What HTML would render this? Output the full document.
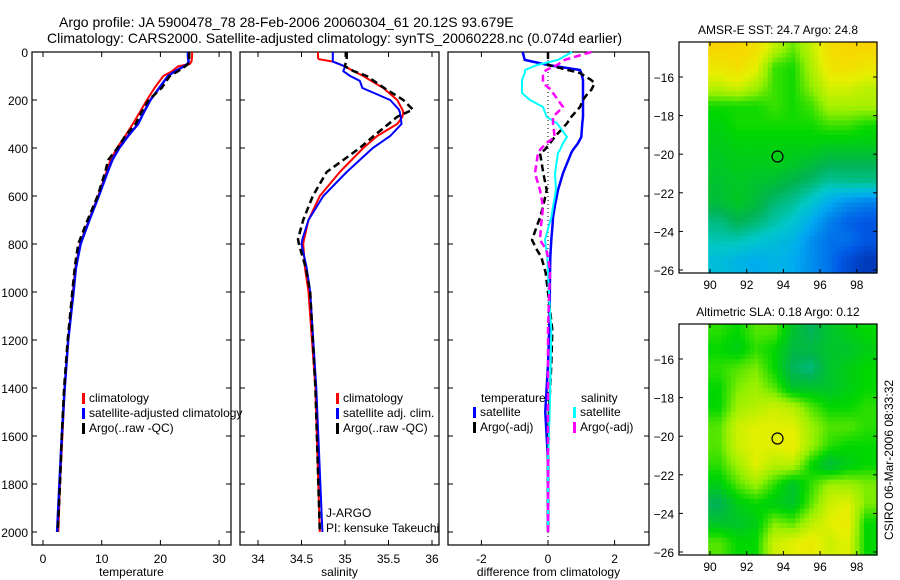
<!DOCTYPE html>
<html><head><meta charset="utf-8">
<style>
html,body{margin:0;padding:0;background:#fff;}
svg{display:block;font-family:"Liberation Sans",Arial,sans-serif;}
text{fill:#000;}
</style></head>
<body>
<svg id="chart" width="900" height="580" viewBox="0 0 900 580" xmlns="http://www.w3.org/2000/svg">
<text x="59" y="27" font-size="14">Argo profile: JA 5900478_78 28-Feb-2006 20060304_61 20.12S 93.679E</text>
<text x="47" y="43" font-size="14">Climatology: CARS2000. Satellite-adjusted climatology: synTS_20060228.nc (0.074d earlier)</text>
<g id="g"></g>
</svg>
<script>
// ---------- data ----------
const depthT = [0,20,40,50,60,80,100,150,200,250,300,350,400,450,500,600,700,800,900,1000,1200,1400,1600,1800,2000];
const tempClim = [25.4,25.4,25.3,25.0,23.0,22.0,20.5,19.0,17.7,16.5,15.3,14.0,12.6,11.5,10.8,9.4,7.8,6.3,5.5,5.1,4.3,3.7,3.3,2.9,2.6];
const tempSat  = [24.7,24.7,24.8,24.6,24.0,22.5,21.3,19.8,18.3,17.2,16.2,14.5,13.0,11.8,11.0,9.5,7.9,6.4,5.6,5.2,4.3,3.7,3.2,2.8,2.4];
const tempArgo = [24.9,24.9,24.9,24.7,24.2,23.0,21.6,20.2,18.0,16.8,15.8,14.0,12.7,11.1,10.6,9.3,7.6,6.0,5.4,5.0,4.2,3.6,3.2,2.9,2.5];
const depthS = [0,20,25,30,40,60,80,100,120,150,200,240,250,270,300,350,400,500,600,700,780,800,900,1000,1400,2000];
const salClim = [34.69,34.69,34.69,34.70,34.86,35.0,35.1,35.21,35.3,35.44,35.6,35.66,35.67,35.66,35.6,35.37,35.21,34.94,34.71,34.58,34.53,34.52,34.54,34.58,34.66,34.71];
const salSat  = [34.86,34.86,34.86,34.86,34.86,35.0,34.98,35.06,35.17,35.2,35.52,35.62,35.63,35.64,35.65,35.52,35.32,35.02,34.75,34.58,34.51,34.50,34.56,34.60,34.67,34.74];
const salArgo = [35.02,35.02,35.02,35.02,35.01,35.0,35.1,35.25,35.33,35.45,35.67,35.78,35.72,35.6,35.5,35.33,35.17,34.79,34.63,34.52,34.46,34.47,34.55,34.60,34.66,34.71];
const depthD = [0,33,54,75,88,117,130,158,171,200,229,270,297,354,380,408,420,505,575,645,690,712,783,825,854,920,1062,1158,1300,1500,1700,2000];
const diffTempSat  = [-0.76,-0.7,0.0,0.96,1.0,1.05,1.05,1.05,1.05,1.05,1.05,1.05,1.03,1.0,0.9,0.75,0.7,0.45,0.3,0.2,0.15,0.14,0.1,0.08,0.07,0.06,0.05,0.04,0.0,-0.08,0.0,0.0];
const diffTempArgo = [0.0,0.0,0.0,0.6,0.96,1.3,1.4,1.3,1.2,1.05,0.96,0.7,0.57,0.2,0.06,-0.1,-0.24,-0.14,-0.04,-0.15,-0.24,-0.3,-0.48,-0.33,-0.2,-0.07,0.05,0.13,0.1,0.03,0.0,0.0];
const diffSalSat   = [0.72,0.3,-0.33,-0.69,-0.7,-0.78,-0.78,-0.78,-0.78,-0.54,-0.15,-0.04,0.27,0.57,0.45,0.36,0.3,0.21,0.24,0.15,0.1,0.05,-0.09,-0.05,-0.02,0.0,0.05,0.1,0.08,0.05,0.0,0.0];
const diffSalArgo  = [1.3,0.5,0.27,-0.05,-0.15,-0.15,-0.15,0.1,0.15,0.3,0.45,0.15,0.15,0.2,-0.05,-0.24,-0.3,-0.39,-0.24,-0.15,-0.18,-0.2,-0.24,-0.05,0.0,0.06,0.02,0.0,0.0,0.0,0.0,0.0];
const sstGrid = [
[25.5,25.5,25.4,25.0,24.7,25.0,25.4,25.5,25.5],
[25.3,25.4,25.2,24.6,24.5,24.9,25.3,25.4,25.3],
[25.0,25.1,24.9,24.6,24.5,24.8,25.1,25.1,25.0],
[24.5,24.5,24.5,24.6,24.5,24.6,24.9,24.9,24.9],
[24.4,24.5,24.5,24.5,24.5,24.5,24.6,24.6,24.5],
[24.35,24.4,24.4,24.4,24.4,24.4,24.35,24.35,24.35],
[24.3,24.35,24.35,24.35,24.3,24.2,24.1,24.1,24.1],
[24.25,24.3,24.25,24.2,24.1,24.0,23.85,23.9,23.9],
[24.2,24.3,24.2,24.0,23.9,23.7,23.4,23.2,23.1],
[23.95,24.1,24.0,23.85,23.7,23.4,23.1,22.9,22.8],
[23.8,23.8,23.7,23.6,23.5,23.2,23.0,23.0,22.8],
[23.6,23.5,23.4,23.5,23.4,23.2,23.0,22.7,22.5]];
const slaGrid = [
[0.11,0.10,0.12,0.12,0.08,0.06,0.08,0.09,0.10],
[0.10,0.09,0.11,0.10,0.07,0.07,0.08,0.08,0.09],
[0.11,0.12,0.13,0.10,0.06,0.05,0.08,0.09,0.10],
[0.10,0.13,0.14,0.12,0.08,0.08,0.08,0.09,0.10],
[0.10,0.14,0.15,0.16,0.15,0.12,0.10,0.10,0.11],
[0.12,0.16,0.17,0.17,0.17,0.14,0.12,0.12,0.11],
[0.12,0.16,0.17,0.17,0.18,0.14,0.11,0.10,0.10],
[0.11,0.14,0.17,0.15,0.15,0.10,0.07,0.09,0.10],
[0.09,0.12,0.14,0.11,0.08,0.11,0.14,0.14,0.13],
[0.06,0.09,0.10,0.09,0.08,0.12,0.16,0.17,0.13],
[0.08,0.08,0.09,0.13,0.12,0.15,0.17,0.18,0.10],
[0.12,0.10,0.10,0.16,0.17,0.18,0.16,0.17,0.10]];
const floatLon = 93.679, floatLat = -20.12;
const depthTicks = [0,200,400,600,800,1000,1200,1400,1600,1800,2000];
const tempTicks = [0,10,20,30];
const salTicks = [34,34.5,35,35.5,36];
const diffTicks = [-2,0,2];
const lonTicks = [90,92,94,96,98];
const latTicks = [-16,-18,-20,-22,-24,-26];

// ---------- helpers ----------
const NS="http://www.w3.org/2000/svg";
const G=document.getElementById('g');
function mk(tag,attrs,parent){const e=document.createElementNS(NS,tag);for(const k in attrs)e.setAttribute(k,attrs[k]);(parent||G).appendChild(e);return e;}
function txt(x,y,s,size,anchor,parent){const t=mk('text',{x:x,y:y,'font-size':size||12,'text-anchor':anchor||'start'},parent);t.textContent=s;return t;}
const yD = d => 52 + d*0.24;

function panel(name,x0,x1,xs,ticks,fmt,label,showY){
  const g=mk('g',{});
  
  
  const r=mk('rect',{x:x0,y:52,width:x1-x0,height:493,fill:'none',stroke:'#000','stroke-width':1.2},g);
  
  
  ticks.forEach(v=>{const x=xs(v);
    mk('line',{x1:x,y1:545,x2:x,y2:540,stroke:'#000'},g);
    mk('line',{x1:x,y1:52,x2:x,y2:57,stroke:'#000'},g);
    const t=txt(x,563,fmt(v),12,'middle',g);
    
    
  });
  depthTicks.forEach(d=>{const y=yD(d);
    mk('line',{x1:x0,y1:y,x2:x0+5,y2:y,stroke:'#000'},g);
    mk('line',{x1:x1,y1:y,x2:x1-5,y2:y,stroke:'#000'},g);
    if(showY){const t=txt(28,y+5,String(d),12,'end',g);
      
      }
  });
  const l=txt((x0+x1)/2,576,label,12,'middle',g);
  
  
  return g;
}
function series(name,depths,vals,xs,color,w,dash){
  const pts=depths.map((d,i)=>xs(vals[i]).toFixed(1)+','+yD(d).toFixed(1)).join(' ');
  const p=mk('polyline',{points:pts,fill:'none',stroke:color,'stroke-width':w,'stroke-linejoin':'round'});
  if(dash)p.setAttribute('stroke-dasharray',dash);
  
  
}
function legend(x,y,color,label,name){
  const r=mk('rect',{x:x,y:y-9,width:3,height:11,fill:color});
  
  
  const t=txt(x+7,y,label,12);
  
  
}

// ---------- panel 1: temperature ----------
const xT = v => 43 + v*5.87;
panel('temperature-panel',32,231,xT,tempTicks,String,'temperature',true);
series('temp-climatology',depthT,tempClim,xT,'#ff0000',2);
series('temp-satellite-adjusted',depthT,tempSat,xT,'#0000ff',2.5);
series('temp-argo',depthT,tempArgo,xT,'#000',2.5,'7,4');
legend(82,402,'#ff0000','climatology','legend-temp-climatology');
legend(82,417,'#0000ff','satellite-adjusted climatology','legend-temp-satellite');
legend(82,432,'#000','Argo(..raw -QC)','legend-temp-argo');

// ---------- panel 2: salinity ----------
const xS = v => 258 + (v-34)*87;
panel('salinity-panel',240,439,xS,salTicks,String,'salinity',false);
series('sal-climatology',depthS,salClim,xS,'#ff0000',2);
series('sal-satellite-adjusted',depthS,salSat,xS,'#0000ff',2);
series('sal-argo',depthS,salArgo,xS,'#000',2.5,'7,4');
legend(336,402,'#ff0000','climatology','legend-sal-climatology');
legend(336,417,'#0000ff','satellite adj. clim.','legend-sal-satellite');
legend(336,432,'#000','Argo(..raw -QC)','legend-sal-argo');
const j1=txt(326,517,'J-ARGO',12);


const j2=txt(326,532,'PI: kensuke Takeuchi',12);



// ---------- panel 3: differences ----------
const xD = v => 548 + v*33.3;
panel('difference-panel',448,649,xD,diffTicks,String,'difference from climatology',false);
const zl=mk('line',{x1:xD(0),y1:52,x2:xD(0),y2:545,stroke:'#000','stroke-dasharray':'1,3'});


series('diff-temp-satellite',depthD,diffTempSat,xD,'#0000ff',2.5);
series('diff-temp-argo',depthD,diffTempArgo,xD,'#000',2.5,'7,4');
series('diff-sal-satellite',depthD,diffSalSat,xD,'#00ffff',2);
series('diff-sal-argo',depthD,diffSalArgo,xD,'#ff00ff',2.5,'7,4');
const lt=txt(481,402,'temperature',12);


const ls=txt(581,402,'salinity',12);


legend(473,416,'#0000ff','satellite','legend-diff-temp-satellite');
legend(473,431,'#000','Argo(-adj)','legend-diff-temp-argo');
legend(573,416,'#00ffff','satellite','legend-diff-sal-satellite');
legend(573,431,'#ff00ff','Argo(-adj)','legend-diff-sal-argo');

// ---------- maps ----------
const cmapStops=[[0,[0,40,160]],[0.15,[0,90,230]],[0.3,[0,170,240]],[0.4,[0,200,200]],[0.5,[0,180,80]],[0.6,[0,215,0]],[0.7,[150,240,0]],[0.8,[230,240,0]],[0.9,[250,210,0]],[1,[255,160,0]]];
function cmap(v){v=Math.max(0,Math.min(1,v));
  for(let i=1;i<cmapStops.length;i++){const a=cmapStops[i-1],b=cmapStops[i];
    if(v<=b[0]){const t=(v-a[0])/(b[0]-a[0]);
      return 'rgb('+a[1].map((c,k)=>Math.round(c+(b[1][k]-c)*t)).join(',')+')';}}
  return 'rgb(255,160,0)';}
function interp(grid,lon,lat){
  let fx=(lon-90.5), fy=(-14.5-lat);
  fx=Math.max(0,Math.min(8,fx)); fy=Math.max(0,Math.min(11,fy));
  const i=Math.min(7,Math.floor(fx)), j=Math.min(10,Math.floor(fy));
  const tx=fx-i, ty=fy-j;
  return grid[j][i]*(1-tx)*(1-ty)+grid[j][i+1]*tx*(1-ty)+grid[j+1][i]*(1-tx)*ty+grid[j+1][i+1]*tx*ty;}
function map(name,title,grid,vmin,vmax,top){
  const x0=679,x1=877,bot=top+231;
  const lonS=l=>710+(l-90)*18.35;
  const latY=l=>top+35+(-16-l)*19.3;
  const g=mk('g',{});
  
  
  const cells=mk('g',{},g);
  
  
  const step=0.25;
  for(let lat=-14.0;lat>-26.3;lat-=step){
    for(let lon=89.9;lon<99.2;lon+=step){
      const v=interp(grid,lon+step/2,lat-step/2);
      const X=lonS(lon),Y=latY(lat);
      const xr=Math.min(x1,lonS(lon+step)), yb=Math.min(bot,latY(lat-step));
      const yt=Math.max(top,Y);
      if(xr<=X||yb<=yt)continue;
      mk('rect',{x:X.toFixed(1),y:yt.toFixed(1),width:(xr-X+0.6).toFixed(1),height:(yb-yt+0.6).toFixed(1),fill:cmap((v-vmin)/(vmax-vmin))},cells);
    }
  }
  const fr=mk('rect',{x:x0,y:top,width:x1-x0,height:bot-top,fill:'none',stroke:'#000','stroke-width':1.2},g);
  
  
  lonTicks.forEach(l=>{const x=lonS(l);
    mk('line',{x1:x,y1:bot,x2:x,y2:bot-4,stroke:'#000'},g);
    mk('line',{x1:x,y1:top,x2:x,y2:top+4,stroke:'#000'},g);
    const t=txt(x,bot+16,String(l),12,'middle',g);
    
    });
  latTicks.forEach(l=>{const y=latY(l);
    mk('line',{x1:x0,y1:y,x2:x0+4,y2:y,stroke:'#000'},g);
    mk('line',{x1:x1,y1:y,x2:x1-4,y2:y,stroke:'#000'},g);
    const t=txt(674,y+5,String(l).replace('-','\u2212'),12,'end',g);
    
    });
  const c=mk('circle',{cx:lonS(floatLon),cy:latY(floatLat),r:5.5,fill:'none',stroke:'#000','stroke-width':1.2},g);
  
  
  const t=txt(778,top-8,title,12,'middle',g);
  
  
}
map('sst-map','AMSR-E SST: 24.7 Argo: 24.8',sstGrid,22.3,25.9,42);
map('sla-map','Altimetric SLA: 0.18 Argo: 0.12',slaGrid,-0.118,0.245,324);
const cs=txt(0,0,'CSIRO 06-Mar-2006 08:33:32',12,'middle');
cs.setAttribute('transform','translate(893,460) rotate(-90)');


</script>
</body></html>
